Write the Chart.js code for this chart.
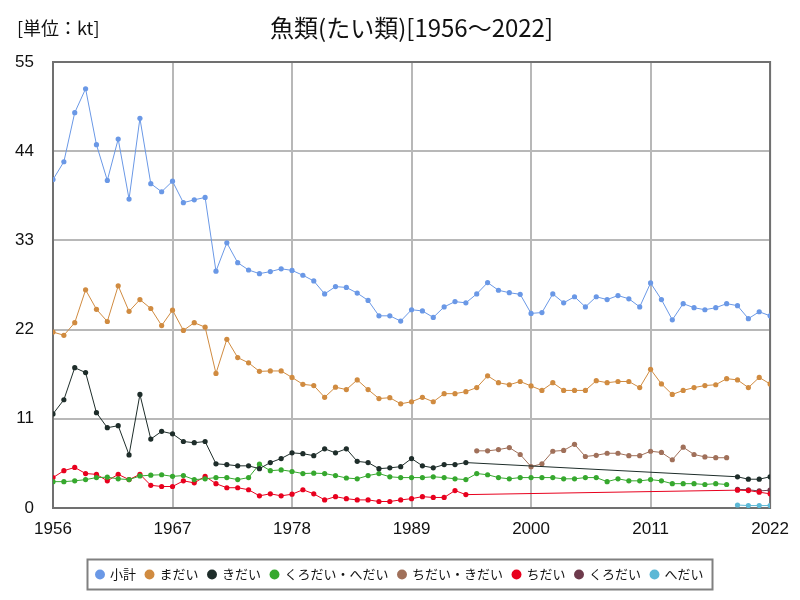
<!DOCTYPE html>
<html>
<head>
<meta charset="utf-8">
<script src="https://cdn.jsdelivr.net/npm/chart.js@4/dist/chart.umd.min.js"></script>
<style>
  html, body { margin: 0; padding: 0; background: #fff; }
  #wrap { width: 800px; height: 600px; }
</style>
</head>
<body>
<div id="wrap"><canvas id="fishChart" width="800" height="600"></canvas></div>
<script>
// years 1956..2022
const years = [1956,1957,1958,1959,1960,1961,1962,1963,1964,1965,1966,1967,1968,1969,1970,
  1971,1972,1973,1974,1975,1976,1977,1978,1979,1980,1981,1982,1983,1984,1985,1986,1987,1988,
  1989,1990,1991,1992,1993,1994,1995,1996,1997,1998,1999,2000,2001,2002,2003,2004,2005,2006,
  2007,2008,2009,2010,2011,2012,2013,2014,2015,2016,2017,2018,2019,2020,2021,2022];

const subtotal = [40.5,42.7,48.75,51.7,44.8,40.4,45.5,38.1,48.05,40.0,39.0,40.3,37.65,38.0,38.3,
  29.2,32.7,30.25,29.35,28.9,29.15,29.5,29.3,28.7,28.0,26.4,27.3,27.2,26.5,25.6,23.7,23.7,23.05,
  24.45,24.3,23.5,24.8,25.45,25.3,26.4,27.8,26.85,26.55,26.35,24.0,24.1,26.4,25.3,26.05,24.8,26.05,
  25.7,26.2,25.8,24.8,27.75,25.7,23.2,25.2,24.7,24.45,24.7,25.2,24.95,23.35,24.2,23.7];

const madai = [21.7,21.3,22.85,26.9,24.5,23.0,27.4,24.25,25.7,24.6,22.5,24.4,21.9,22.85,22.3,
  16.6,20.8,18.55,17.9,16.85,16.9,16.9,16.1,15.25,15.1,13.65,14.9,14.6,15.8,14.6,13.5,13.6,12.85,
  13.1,13.65,13.1,14.1,14.1,14.35,14.85,16.3,15.45,15.2,15.6,15.05,14.5,15.45,14.5,14.5,14.5,15.7,
  15.45,15.6,15.6,14.85,17.1,15.3,14.0,14.5,14.85,15.1,15.2,15.95,15.8,14.85,16.1,15.3];

const kidai = [11.6,13.35,17.3,16.7,11.75,9.9,10.15,6.55,14.0,8.5,9.45,9.15,8.2,8.05,8.2,
  5.45,5.35,5.2,5.2,4.85,5.6,6.1,6.8,6.7,6.45,7.3,6.8,7.3,5.75,5.6,4.85,4.95,5.1,
  6.1,5.2,4.95,5.35,5.35,5.6,null,null,null,null,null,null,null,null,null,null,null,null,
  null,null,null,null,null,null,null,null,null,null,null,null,3.85,3.55,3.55,3.85];

const kurodaiHedai = [3.25,3.25,3.35,3.5,3.75,3.8,3.6,3.5,3.95,4.05,4.1,3.9,4.0,3.5,3.6,
  3.75,3.75,3.5,3.75,5.4,4.6,4.7,4.5,4.25,4.3,4.25,4.0,3.7,3.6,4.0,4.25,3.85,3.75,
  3.75,3.75,3.85,3.75,3.6,3.5,4.25,4.1,3.75,3.6,3.75,3.75,3.75,3.75,3.6,3.6,3.75,3.75,
  3.25,3.6,3.35,3.35,3.5,3.35,3.0,3.0,3.0,2.9,3.0,2.9,null,null,null,null];

const chidaiKidai = [null,null,null,null,null,null,null,null,null,null,null,null,null,null,null,
  null,null,null,null,null,null,null,null,null,null,null,null,null,null,null,null,null,null,
  null,null,null,null,null,null,7.05,7.05,7.2,7.45,6.6,5.1,5.45,7.0,7.1,7.85,6.35,6.5,
  6.75,6.75,6.45,6.45,7.0,6.85,5.95,7.5,6.6,6.3,6.2,6.2,null,null,null,null];

const chidai = [3.75,4.6,5.0,4.25,4.15,3.35,4.15,3.5,4.15,2.8,2.65,2.65,3.35,3.1,3.9,
  3.0,2.5,2.5,2.25,1.5,1.75,1.5,1.7,2.25,1.75,1.0,1.4,1.15,1.0,1.0,0.8,0.8,1.0,
  1.15,1.4,1.3,1.3,2.15,1.65,null,null,null,null,null,null,null,null,null,null,null,null,
  null,null,null,null,null,null,null,null,null,null,null,null,2.2,2.15,1.95,1.75];

const kurodai = [null,null,null,null,null,null,null,null,null,null,null,null,null,null,null,
  null,null,null,null,null,null,null,null,null,null,null,null,null,null,null,null,null,null,
  null,null,null,null,null,null,null,null,null,null,null,null,null,null,null,null,null,null,
  null,null,null,null,null,null,null,null,null,null,null,null,2.3,2.25,2.1,2.2];

const hedai = [null,null,null,null,null,null,null,null,null,null,null,null,null,null,null,
  null,null,null,null,null,null,null,null,null,null,null,null,null,null,null,null,null,null,
  null,null,null,null,null,null,null,null,null,null,null,null,null,null,null,null,null,null,
  null,null,null,null,null,null,null,null,null,null,null,null,0.37,0.3,0.3,0.3];

const seriesNames = ['小計','まだい','きだい','くろだい・へだい','ちだい・きだい','ちだい','くろだい','へだい'];
const seriesValues = [subtotal, madai, kidai, kurodaiHedai, chidaiKidai, chidai, kurodai, hedai];
const seriesColors = ['#6a98e6','#d08b40','#1e2d2a','#36a82e','#a0705a','#e8001e','#6e3a4c','#5cb8d6'];

const yTicks = [0, 11, 22, 33, 44, 55];

function toPoints(vals){
  let pts = [];
  for(let i=0; i<years.length; i++){
    pts.push({x: years[i], y: vals[i]});
  }
  return pts;
}

let datasets = [];
for(let i=0; i<seriesNames.length; i++){
  datasets.push({
    label: seriesNames[i],
    data: toPoints(seriesValues[i]),
    yAxisID: 'y',
    borderColor: seriesColors[i],
    backgroundColor: seriesColors[i],
    pointBackgroundColor: seriesColors[i],
    pointBorderWidth: 0,
    pointRadius: 2.6,
    borderWidth: 1,
    tension: 0,
    spanGaps: true
  });
}

// title, unit, plot frame and legend box
const decor = {
  id: 'decor',
  beforeDatasetsDraw(chart){
    let a = chart.chartArea, ctx = chart.ctx;
    ctx.save();
    ctx.strokeStyle = '#707070';
    ctx.lineWidth = 2;
    ctx.strokeRect(a.left, a.top, a.right - a.left, a.bottom - a.top);
    ctx.restore();
  },
  afterDraw(chart){
    let a = chart.chartArea, ctx = chart.ctx;
    ctx.save();
    ctx.fillStyle = '#111';
    ctx.textBaseline = 'middle';
    ctx.textAlign = 'center';
    ctx.font = '24px "Noto Sans CJK JP"';
    ctx.fillText('魚類(たい類)[1956～2022]', (a.left + a.right) / 2, 28);
    ctx.textAlign = 'left';
    ctx.font = '18px "Noto Sans CJK JP"';
    ctx.fillText('[単位：kt]', 17, 28);

    let boxes = chart.legend.legendHitBoxes;
    if(boxes && boxes.length){
      let minX = 9999, maxX = 0, minY = 9999, maxY = 0;
      boxes.forEach(b => {
        minX = Math.min(minX, b.left);
        maxX = Math.max(maxX, b.left + b.width);
        minY = Math.min(minY, b.top);
        maxY = Math.max(maxY, b.top + b.height);
      });
      let cy = (minY + maxY) / 2;
      ctx.strokeStyle = '#808080';
      ctx.lineWidth = 2;
      ctx.strokeRect(minX - 9, cy - 15, (maxX - minX) + 18, 30);
    }
    ctx.restore();
  }
};

let ctx = document.getElementById('fishChart').getContext('2d');
let chart = new Chart(ctx, {
  type: 'line',
  data: { datasets: datasets },
  options: {
    responsive: false,
    animation: false,
    layout: { padding: { left: 0, right: 0, top: 62, bottom: 9 } },
    plugins: {
      title: { display: false },
      tooltip: { enabled: false },
      legend: {
        position: 'bottom',
        labels: {
          usePointStyle: true,
          pointStyle: 'circle',
          boxWidth: 7,
          boxHeight: 7,
          padding: 10,
          color: '#111',
          font: { family: '"Noto Sans CJK JP"', size: 13 }
        }
      }
    },
    scales: {
      x: {
        type: 'linear',
        min: 1956,
        max: 2022,
        afterFit: s => { s.height = 50; },
        afterBuildTicks: s => { s.ticks = years.filter(y => (y - 1956) % 11 === 0).map(v => ({value: v})); },
        ticks: {
          color: '#111',
          padding: 11,
          maxRotation: 0,
          font: { family: '"Liberation Sans"', size: 17 },
          callback: v => String(v)
        },
        grid: { color: '#b8b8b8', lineWidth: 2, drawTicks: false },
        border: { display: false }
      },
      y: {
        min: 0,
        max: 55,
        afterFit: s => { s.width = 53; },
        afterBuildTicks: s => { s.ticks = yTicks.map(v => ({value: v})); },
        ticks: {
          color: '#111',
          padding: 19,
          font: { family: '"Liberation Sans"', size: 17 }
        },
        grid: { color: '#b8b8b8', lineWidth: 2, drawTicks: false },
        border: { display: false }
      },
      // empty right margin so the legend centres on the page
      yRight: {
        position: 'right',
        min: 0,
        max: 55,
        afterFit: s => { s.width = 28; },
        ticks: { display: false },
        grid: { display: false, drawTicks: false },
        border: { display: false }
      }
    }
  },
  plugins: [decor]
});
</script>
</body>
</html>
